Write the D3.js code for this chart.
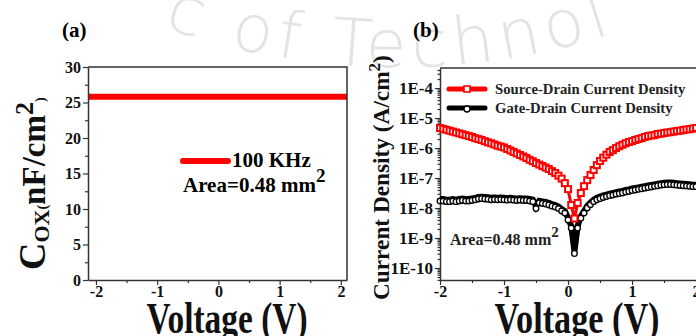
<!DOCTYPE html>
<html>
<head>
    <meta charset="utf-8">
    <script src="https://d3js.org/d3.v7.min.js"></script>
    <style>
        body { margin: 0; background: #fff; }
        text { font-family: "Liberation Serif", "Times New Roman", serif; font-weight: bold; }
    </style>
</head>
<body>
    <div id="my_dataviz"></div>
    <script>

        // ---- data ----
        // (a) capacitance vs voltage
        var capVoltage = [-2.2, -1, 0, 1, 2.2];
        var capValue = [25.8, 25.8, 25.8, 25.8, 25.8];
        var capTicksY = [0, 5, 10, 15, 20, 25, 30];
        var voltTicks = [-2, -1, 0, 1, 2];

        // (b) current density, stored as log10 of A/cm2
        var voltage = [-2, -1.95, -1.9, -1.85, -1.8, -1.75, -1.7, -1.65, -1.6, -1.55,
            -1.5, -1.45, -1.4, -1.35, -1.3, -1.25, -1.2, -1.15, -1.1, -1.05,
            -1, -0.95, -0.9, -0.85, -0.8, -0.75, -0.7, -0.65, -0.6, -0.55,
            -0.5, -0.45, -0.4, -0.35, -0.3, -0.25, -0.2, -0.15, -0.1, -0.05,
            0, 0.05, 0.1, 0.15, 0.2, 0.25, 0.3, 0.35, 0.4, 0.45,
            0.5, 0.55, 0.6, 0.65, 0.7, 0.75, 0.8, 0.85, 0.9, 0.95,
            1, 1.05, 1.1, 1.15, 1.2, 1.25, 1.3, 1.35, 1.4, 1.45,
            1.5, 1.55, 1.6, 1.65, 1.7, 1.75, 1.8, 1.85, 1.9, 1.95, 2];
        var sourceDrainLog = [-5.33, -5.36, -5.39, -5.42, -5.45, -5.48, -5.51, -5.54, -5.57, -5.60,
            -5.63, -5.67, -5.70, -5.73, -5.77, -5.81, -5.84, -5.88, -5.92, -5.95,
            -5.98, -6.03, -6.08, -6.13, -6.18, -6.23, -6.28, -6.33, -6.39, -6.44,
            -6.50, -6.55, -6.60, -6.65, -6.70, -6.77, -6.83, -6.92, -7.02, -7.17,
            -7.37, -7.90, -8.35, -7.83, -7.50, -7.27, -7.07, -6.90, -6.73, -6.57,
            -6.43, -6.32, -6.22, -6.13, -6.07, -6.00, -5.94, -5.89, -5.84, -5.80,
            -5.77, -5.73, -5.70, -5.67, -5.63, -5.60, -5.58, -5.57, -5.53, -5.52,
            -5.50, -5.48, -5.47, -5.45, -5.43, -5.42, -5.40, -5.38, -5.37, -5.35, -5.33];
        var gateDrainLog = [-7.70, -7.70, -7.72, -7.72, -7.70, -7.72, -7.70, -7.68, -7.70, -7.70,
            -7.68, -7.66, -7.63, -7.62, -7.63, -7.64, -7.66, -7.65, -7.66, -7.65,
            -7.66, -7.67, -7.66, -7.67, -7.68, -7.67, -7.68, -7.68, -7.70, -7.72,
            -7.95, -7.76, -7.78, -7.80, -7.83, -7.87, -7.90, -7.95, -8.03, -8.10,
            -8.33, -8.60, -9.45, -8.60, -8.27, -8.10, -7.93, -7.82, -7.72, -7.66,
            -7.62, -7.58, -7.55, -7.52, -7.50, -7.47, -7.45, -7.43, -7.40, -7.38,
            -7.35, -7.33, -7.31, -7.29, -7.27, -7.25, -7.23, -7.21, -7.19, -7.17,
            -7.16, -7.15, -7.15, -7.16, -7.17, -7.18, -7.19, -7.20, -7.21, -7.22, -7.22];
        var decadeTicks = [1e-4, 1e-5, 1e-6, 1e-7, 1e-8, 1e-9, 1e-10];

        var svg = d3.select("#my_dataviz")
            .append("svg")
            .attr("width", 696)
            .attr("height", 336);

        svg.append("rect").attr("width", 696).attr("height", 336).attr("fill", "#fff");

        // faint watermark arc behind everything
        svg.append("path")
            .attr("id", "wmArc")
            .attr("fill", "none")
            .attr("d", "M 150 22 A 700 700 0 0 0 670 12");
        svg.append("text")
            .style("font-family", "DejaVu Sans, sans-serif")
            .style("font-weight", 200)
            .attr("font-size", 66)
            .attr("letter-spacing", 6)
            .attr("fill", "#e3e3e3")
            .append("textPath")
            .attr("href", "#wmArc")
            .attr("startOffset", 14)
            .text("c of Technol");

        var axisColor = "#333";

        function styleAxis(g, fontSize) {
            g.select(".domain").attr("stroke", axisColor).attr("stroke-width", 1.5);
            g.selectAll(".tick line").attr("stroke", axisColor).attr("stroke-width", 1.2);
            g.selectAll(".tick text").attr("fill", "#111")
                .style("font-family", "Liberation Serif, serif")
                .style("font-weight", "bold")
                .attr("font-size", fontSize);
        }

        // ================= panel (a) =================
        var xA = d3.scaleLinear().domain([-2.13, 2.1]).range([88, 347]);
        var yA = d3.scaleLinear().domain([0, 30]).range([280, 67]);

        svg.append("defs").append("clipPath").attr("id", "clipA")
            .append("rect").attr("x", 88).attr("y", 67).attr("width", 259).attr("height", 213);

        svg.append("path")
            .datum(capVoltage.map(function (v, i) { return [v, capValue[i]]; }))
            .attr("clip-path", "url(#clipA)")
            .attr("fill", "none")
            .attr("stroke", "#ff0000")
            .attr("stroke-width", 6)
            .attr("d", d3.line()
                .x(function (d) { return xA(d[0]); })
                .y(function (d) { return yA(d[1]); }));

        // minor ticks
        svg.append("g").attr("transform", "translate(88,0)")
            .call(d3.axisLeft(yA).tickValues(d3.range(2.5, 30, 5)).tickSize(3).tickFormat(""))
            .call(function (g) { styleAxis(g, 0); g.select(".domain").remove(); });
        svg.append("g").attr("transform", "translate(0,280)")
            .call(d3.axisBottom(xA).tickValues([-1.5, -0.5, 0.5, 1.5]).tickSize(3).tickFormat(""))
            .call(function (g) { styleAxis(g, 0); g.select(".domain").remove(); });

        svg.append("g").attr("transform", "translate(88,0)")
            .call(d3.axisLeft(yA).tickValues(capTicksY).tickSize(5).tickSizeOuter(0).tickPadding(2)
                .tickFormat(function (d) { return String(d); }))
            .call(function (g) { styleAxis(g, 16); });
        svg.append("g").attr("transform", "translate(0,280)")
            .call(d3.axisBottom(xA).tickValues(voltTicks).tickSize(5).tickSizeOuter(0).tickPadding(1)
                .tickFormat(function (d) { return String(d); }))
            .call(function (g) { styleAxis(g, 16); });

        // frame top / right
        svg.append("path")
            .attr("d", "M88,67H347V280")
            .attr("fill", "none").attr("stroke", axisColor).attr("stroke-width", 1.5);

        // legend (a)
        svg.append("line")
            .attr("x1", 183).attr("x2", 228).attr("y1", 161).attr("y2", 161)
            .attr("stroke", "#ff0000").attr("stroke-width", 6).attr("stroke-linecap", "round");
        svg.append("text").attr("x", 232).attr("y", 167).attr("font-size", 21).text("100 KHz");
        var areaA = svg.append("text").attr("x", 183).attr("y", 192).attr("font-size", 21);
        areaA.append("tspan").text("Area=0.48 mm");
        areaA.append("tspan").attr("dy", -10).attr("font-size", 19).text("2");

        svg.append("text").attr("x", 62).attr("y", 37).attr("font-size", 21).text("(a)");

        // axis titles (a)
        var yTitleA = svg.append("text")
            .attr("transform", "translate(45,270) rotate(-90)")
            .attr("fill", "#111");
        yTitleA.append("tspan").attr("font-size", 38).text("C");
        yTitleA.append("tspan").attr("font-size", 22).attr("dy", 4).text("OX");
        yTitleA.append("tspan").attr("font-size", 14).attr("dy", -2).text("(");
        yTitleA.append("tspan").attr("font-size", 33).attr("dy", -2).text("nF/cm");
        yTitleA.append("tspan").attr("font-size", 26).attr("dy", -12).text("2");
        yTitleA.append("tspan").attr("font-size", 14).attr("dy", 12).text(")");

        svg.append("text")
            .attr("x", 227).attr("y", 333)
            .attr("text-anchor", "middle")
            .attr("font-size", 44)
            .attr("textLength", 161)
            .attr("lengthAdjust", "spacingAndGlyphs")
            .attr("fill", "#111")
            .text("Voltage (V)");

        // ================= panel (b) =================
        var xB = d3.scaleLinear().domain([-2, 2.03]).range([440, 698]);
        var yB = d3.scaleLog().domain([Math.pow(10, -10.4), Math.pow(10, -3.33)]).range([280, 68]);

        var minorLog = [];
        for (var k = -11; k <= -4; k++) {
            for (var m = 2; m <= 9; m++) {
                var v = m * Math.pow(10, k);
                if (v > yB.domain()[0] && v < yB.domain()[1]) minorLog.push(v);
            }
        }
        svg.append("g").attr("transform", "translate(440,0)")
            .call(d3.axisLeft(yB).tickValues(minorLog).tickSize(2.5).tickFormat(""))
            .call(function (g) { styleAxis(g, 0); g.select(".domain").remove(); });
        svg.append("g").attr("transform", "translate(0,280)")
            .call(d3.axisBottom(xB).tickValues([-1.5, -0.5, 0.5, 1.5]).tickSize(3).tickFormat(""))
            .call(function (g) { styleAxis(g, 0); g.select(".domain").remove(); });

        svg.append("g").attr("transform", "translate(440,0)")
            .call(d3.axisLeft(yB).tickValues(decadeTicks).tickSize(5).tickSizeOuter(0).tickPadding(2)
                .tickFormat(function (d) { return "1E" + Math.round(Math.log10(d)); }))
            .call(function (g) { styleAxis(g, 17); });
        svg.append("g").attr("transform", "translate(0,280)")
            .call(d3.axisBottom(xB).tickValues(voltTicks).tickSize(5).tickSizeOuter(0).tickPadding(1)
                .tickFormat(function (d) { return String(d); }))
            .call(function (g) { styleAxis(g, 16); });

        svg.append("path")
            .attr("d", "M440,68H698")
            .attr("fill", "none").attr("stroke", axisColor).attr("stroke-width", 1.5);

        var sdData = voltage.map(function (v, i) { return { v: v, j: Math.pow(10, sourceDrainLog[i]) }; });
        var gdData = voltage.map(function (v, i) { return { v: v, j: Math.pow(10, gateDrainLog[i]) }; });

        var lineB = d3.line()
            .x(function (d) { return xB(d.v); })
            .y(function (d) { return yB(d.j); });

        // Gate-Drain (black, circles)
        svg.append("path")
            .datum(gdData)
            .attr("fill", "none")
            .attr("stroke", "#000")
            .attr("stroke-width", 6)
            .attr("d", lineB);
        svg.append("g").selectAll("circle")
            .data(gdData)
            .enter().append("circle")
            .attr("cx", function (d) { return xB(d.v); })
            .attr("cy", function (d) { return yB(d.j) + 2; })
            .attr("r", 2.8)
            .attr("fill", "#fff")
            .attr("stroke", "#000")
            .attr("stroke-width", 1.3);

        // Source-Drain (red, squares)
        svg.append("path")
            .datum(sdData)
            .attr("fill", "none")
            .attr("stroke", "#ff0000")
            .attr("stroke-width", 3)
            .attr("d", lineB);
        svg.append("g").selectAll("rect")
            .data(sdData)
            .enter().append("rect")
            .attr("x", function (d) { return xB(d.v) - 3; })
            .attr("y", function (d) { return yB(d.j) - 3; })
            .attr("width", 6)
            .attr("height", 6)
            .attr("fill", "#fff")
            .attr("stroke", "#ff0000")
            .attr("stroke-width", 2);

        // legend (b)
        svg.append("line").attr("x1", 449).attr("x2", 485).attr("y1", 89).attr("y2", 89)
            .attr("stroke", "#ff0000").attr("stroke-width", 5).attr("stroke-linecap", "round");
        svg.append("rect").attr("x", 464).attr("y", 86).attr("width", 6).attr("height", 6)
            .attr("fill", "#fff").attr("stroke", "#ff0000").attr("stroke-width", 1.6);
        svg.append("line").attr("x1", 449).attr("x2", 485).attr("y1", 108).attr("y2", 108)
            .attr("stroke", "#000").attr("stroke-width", 5).attr("stroke-linecap", "round");
        svg.append("circle").attr("cx", 467).attr("cy", 109).attr("r", 3)
            .attr("fill", "#fff").attr("stroke", "#000").attr("stroke-width", 1.3);
        svg.append("text").attr("x", 495).attr("y", 94).attr("font-size", 14.7)
            .attr("fill", "#222").text("Source-Drain Current Density");
        svg.append("text").attr("x", 495).attr("y", 113).attr("font-size", 14.7)
            .attr("fill", "#222").text("Gate-Drain Current Density");

        var areaB = svg.append("text").attr("x", 450).attr("y", 245).attr("font-size", 16).attr("fill", "#222");
        areaB.append("tspan").text("Area=0.48 mm");
        areaB.append("tspan").attr("dy", -8).attr("font-size", 15).text("2");

        svg.append("text").attr("x", 413).attr("y", 37).attr("font-size", 21).text("(b)");

        var yTitleB = svg.append("text")
            .attr("transform", "translate(389,300) rotate(-90)")
            .attr("font-size", 23.3)
            .attr("fill", "#111");
        yTitleB.append("tspan").text("Current Density (A/cm");
        yTitleB.append("tspan").attr("dy", -9).attr("font-size", 17).text("2");
        yTitleB.append("tspan").attr("dy", 9).text(")");

        svg.append("text")
            .attr("x", 577).attr("y", 333)
            .attr("text-anchor", "middle")
            .attr("font-size", 44)
            .attr("textLength", 165)
            .attr("lengthAdjust", "spacingAndGlyphs")
            .attr("fill", "#111")
            .text("Voltage (V)");

    </script>
</body>
</html>
